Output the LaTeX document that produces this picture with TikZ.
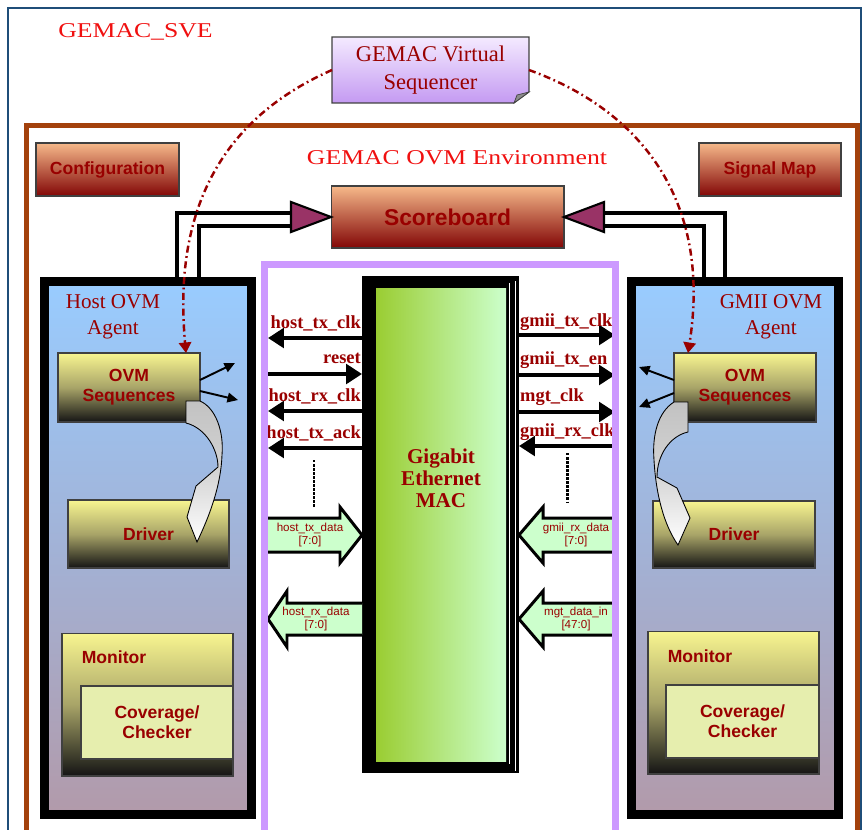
\documentclass[tikz,border=0pt]{standalone}
\usepackage{fontspec}
\setmainfont{Liberation Serif}
\setsansfont{Liberation Sans}
\newfontfamily\widefont[FakeStretch=1.22]{Liberation Serif}
\usepackage{xcolor}
\usetikzlibrary{positioning, arrows.meta}

\definecolor{framebl}{HTML}{1F4E79}
\definecolor{envbrown}{HTML}{A3410C}
\definecolor{dutpurple}{HTML}{CC99FF}
\definecolor{txtred}{HTML}{990000}
\definecolor{titlered}{HTML}{F01010}
\definecolor{peach}{HTML}{F6B98A}
\definecolor{maroon}{HTML}{820606}
\definecolor{paleyel}{HTML}{F8F590}
\definecolor{olive}{HTML}{A8A468}
\definecolor{covyel}{HTML}{E6EEAE}
\definecolor{agentbl}{HTML}{99CCFF}
\definecolor{agentmid}{HTML}{A2B2D6}
\definecolor{agentmv}{HTML}{B29AAA}
\definecolor{macgrA}{HTML}{9ACD32}
\definecolor{macgrB}{HTML}{CCFFCC}
\definecolor{buscol}{HTML}{CCFFCC}
\definecolor{tripurple}{HTML}{993366}
\definecolor{seqtop}{HTML}{F4EAFF}
\definecolor{seqbot}{HTML}{C49AF2}

\begin{document}
\begin{tikzpicture}[
        x=0.02cm, y=-0.02cm,
        frame/.style={rectangle, inner sep=0pt, outer sep=0pt},
        box/.style={rectangle, draw=black!75, line width=0.6pt, inner sep=0pt, outer sep=0pt, align=center, text=txtred, font=\sffamily\bfseries\fontsize{10}{11.3}\selectfont},
        redbox/.style={box, top color=peach, bottom color=maroon},
        yelbox/.style={box, top color=paleyel, bottom color=black!92, middle color=olive},
        agent/.style={frame, draw=black, line width=5.1pt, top color=agentbl, bottom color=agentmv, middle color=agentmid},
        title/.style={font=\widefont\fontsize{12}{14}\selectfont, text=titlered, inner sep=0pt},
        serif/.style={font=\fontsize{12}{15}\selectfont, text=txtred, align=center, inner sep=0pt},
        link/.style={line width=2.8pt},
        tri/.style={fill=tripurple, draw=black, line width=1.2pt},
        seqlink/.style={draw=txtred, line width=1.4pt, dash pattern=on 4pt off 2pt on 1pt off 2pt, -{Triangle[length=6pt,width=7pt]}},
        sig/.style={line width=2.8pt, -{Triangle[length=9pt,width=11pt]}},
        siglbl/.style={font=\bfseries\fontsize{10.5}{12}\selectfont, text=txtred, inner sep=0.5pt},
        bus/.style={fill=buscol, draw=black, line width=1.7pt},
        buslbl/.style={font=\sffamily\fontsize{6.6}{7.4}\selectfont, text=txtred, align=center, inner sep=0pt},
        pointer/.style={line width=1.1pt, -{Triangle[length=6pt,width=5.5pt]}},
        curv/.style={draw=black, line width=0.5pt, top color=black!24, bottom color=white, middle color=black!17},
        dots/.style={line width=1.7pt, dash pattern=on 1.4pt off 0.9pt},
    ]
    \useasboundingbox (0,0) rectangle (865,829);

    % testbench and environment frames
    \node[frame, draw=framebl, line width=1.2pt, minimum width=17.06cm, minimum height=16.8cm] (sve) at (434.5,428) {};
    \node[title, anchor=west] (svet) at (58,32) {GEMAC\_SVE};
    \node[frame, draw=envbrown, line width=2.8pt, minimum width=16.64cm, minimum height=14.4cm] (env) at (442,485) {};
    \node[title] (envt) at (457,158) {GEMAC OVM Environment};

    % virtual sequencer
    \node[frame, top color=seqtop, bottom color=seqbot, minimum width=3.94cm, minimum height=1.32cm, text=txtred, align=center, font=\fontsize{12.8}{16}\selectfont] (vseq) at (430.5,70) {GEMAC Virtual\\Sequencer};
    \fill[white] (vseq.east |- 0,92) -- (vseq.south east) -- (514,103) -- cycle;
    \draw[black!75, line width=0.6pt] (vseq.north west) -- (vseq.north east) -- (vseq.east |- 0,92) -- (514,103) -- (vseq.south west) -- cycle;
    \filldraw[fill=black!45, draw=black!75, line width=0.4pt] (514,103) -- (517,95) -- (vseq.east |- 0,92) -- cycle;

    % environment components
    \node[redbox, minimum width=2.86cm, minimum height=1.06cm] (cfg) at (107.5,169.5) {Configuration};
    \node[redbox, minimum width=2.84cm, minimum height=1.06cm] (smap) at (770,169.5) {Signal Map};
    \node[redbox, minimum width=4.66cm, minimum height=1.24cm, font=\sffamily\bfseries\fontsize{13}{15}\selectfont] (score) at (447.5,217) {Scoreboard};

    % agents
    \node[agent, minimum width=4.14cm, minimum height=10.66cm] (hagent) at (148,548) {};
    \node[agent, minimum width=4.14cm, minimum height=10.66cm] (gagent) at (735,548) {};
    \node[serif] (hagentt) at (113,317) {Host OVM\\Agent};
    \node[serif] (gagentt) at (771,317) {GMII OVM\\Agent};

    \node[yelbox, minimum width=2.84cm, minimum height=1.38cm] (hseq) at (129,387.5) {OVM\\Sequences};
    \node[yelbox, minimum width=3.22cm, minimum height=1.36cm] (hdrv) at (148.5,534) {Driver};
    \node[yelbox, minimum width=3.42cm, minimum height=2.86cm] (hmon) at (147.5,704.5) {};
    \node[font=\sffamily\bfseries\fontsize{10}{12}\selectfont, text=txtred, inner sep=0pt] (hmont) at (114,657) {Monitor};
    \node[box, fill=covyel, minimum width=3.04cm, minimum height=1.46cm] (hcov) at (157,722.5) {Coverage/\\Checker};

    \node[yelbox, minimum width=2.84cm, minimum height=1.38cm] (gseq) at (745,387.5) {OVM\\Sequences};
    \node[yelbox, minimum width=3.24cm, minimum height=1.34cm] (gdrv) at (734,534.5) {Driver};
    \node[yelbox, minimum width=3.42cm, minimum height=2.86cm] (gmon) at (733.5,702.5) {};
    \node[font=\sffamily\bfseries\fontsize{10}{12}\selectfont, text=txtred, inner sep=0pt] (gmont) at (700,656) {Monitor};
    \node[box, fill=covyel, minimum width=3.06cm, minimum height=1.46cm] (gcov) at (742.5,721.5) {Coverage/\\Checker};

    % sequences to drivers
    \path[curv] (186,401) -- (200,401) .. controls (216,408) and (224,432) .. (222,455) .. controls (221,485) and (210,515) .. (197,542) -- (187,517) -- (196,486) -- (218,467) .. controls (218,450) and (206,428) .. (186,423) -- cycle;
    \path[curv] (688,402) -- (674,402) .. controls (658,412) and (652,435) .. (654,460) .. controls (656,495) and (664,525) .. (678,545) -- (690,518) -- (677,488) -- (657,477) .. controls (657,455) and (670,436) .. (688,432) -- cycle;
    \draw[pointer] (hseq.east |- 0,380) -- (235,363);
    \draw[pointer] (hseq.east |- 0,391) -- (238,400);
    \draw[pointer] (gseq.west |- 0,380) -- (639,367);
    \draw[pointer] (gseq.west |- 0,393) -- (639,407);

    % scoreboard connections
    \draw[link] (hagent.north -| 177,0) |- (292,213);
    \draw[link] (hagent.north -| 199,0) |- (292,226);
    \draw[tri] (score.west) -- ++(-40,-15) -- ++(0,30) -- cycle;
    \draw[link] (gagent.north -| 725,0) |- (604,213);
    \draw[link] (gagent.north -| 704,0) |- (604,226);
    \draw[tri] (score.east) -- ++(40,-15) -- ++(0,30) -- cycle;

    % virtual sequencer links
    \draw[seqlink] (vseq.west) .. controls (230,115) and (172,200) .. (hseq.north -| 186,0);
    \draw[seqlink] (vseq.east) .. controls (640,110) and (712,200) .. (gseq.north -| 688,0);

    % DUT
    \node[frame, fill=black, minimum width=3.14cm, minimum height=9.94cm] (mac) at (440.5,524.5) {};
    \fill[left color=macgrA, right color=macgrB] (376,288) rectangle (506,761);
    \draw[white, line width=0.5pt] (509,283) -- (509,764) (515.5,281) -- (515.5,771);
    \node[font=\bfseries\fontsize{12}{12.5}\selectfont, text=txtred, align=center] (macl) at (441,478) {Gigabit\\Ethernet\\MAC};

    % pins
    \coordinate (hedge) at (268,0);
    \coordinate (gedge) at (615,0);
    \foreach \y/\ly/\lbl/\a/\b [count=\i] in {338/323/host\_tx\_clk/mac.west/hedge, 374/358/reset/hedge/mac.west, 411/396/host\_rx\_clk/mac.west/hedge, 448/433/host\_tx\_ack/mac.west/hedge}{
        \draw[sig] (\a |- 0,\y) -- (\b |- 0,\y);
        \node[siglbl, anchor=east] (hsig\i) at (mac.west |- 0,\ly) {\lbl};
    }
    \foreach \y/\ly/\lbl/\a/\b [count=\i] in {335/322/gmii\_tx\_clk/mac.east/gedge, 375/360/gmii\_tx\_en/mac.east/gedge, 412/397/mgt\_clk/mac.east/gedge, 446/432/gmii\_rx\_clk/gedge/mac.east}{
        \draw[sig] (\a |- 0,\y) -- (\b |- 0,\y);
        \node[siglbl, anchor=west] (gsig\i) at (mac.east |- 0,\ly) {\lbl};
    }
    \draw[dots] (314,460) -- (314,507);
    \draw[dots] (567,453) -- (567,502);

    % data buses
    \draw[bus] (hedge |- 0,518) -- (340,518) -- (340,507) -- (mac.west |- 0,535) -- (340,563) -- (340,552) -- (hedge |- 0,552);
    \draw[bus] (mac.west |- 0,603) -- (287,603) -- (287,591) -- (hedge |- 0,619) -- (287,647) -- (287,635) -- (mac.west |- 0,635);
    \draw[bus] (gedge |- 0,518) -- (543,518) -- (543,507) -- (mac.east |- 0,535) -- (543,563) -- (543,552) -- (gedge |- 0,552);
    \draw[bus] (gedge |- 0,603) -- (543,603) -- (543,591) -- (mac.east |- 0,619) -- (543,647) -- (543,635) -- (gedge |- 0,635);
    \node[buslbl] (htxd) at (310,535) {host\_tx\_data\\{}[7:0]};
    \node[buslbl] (hrxd) at (316,619) {host\_rx\_data\\{}[7:0]};
    \node[buslbl] (grxd) at (576,535) {gmii\_rx\_data\\{}[7:0]};
    \node[buslbl] (gmgt) at (576,619) {mgt\_data\_in\\{}[47:0]};

    \node[frame, draw=dutpurple, line width=4pt, minimum width=7.04cm, minimum height=11.52cm] (dut) at (440,552) {};
\end{tikzpicture}
\end{document}
